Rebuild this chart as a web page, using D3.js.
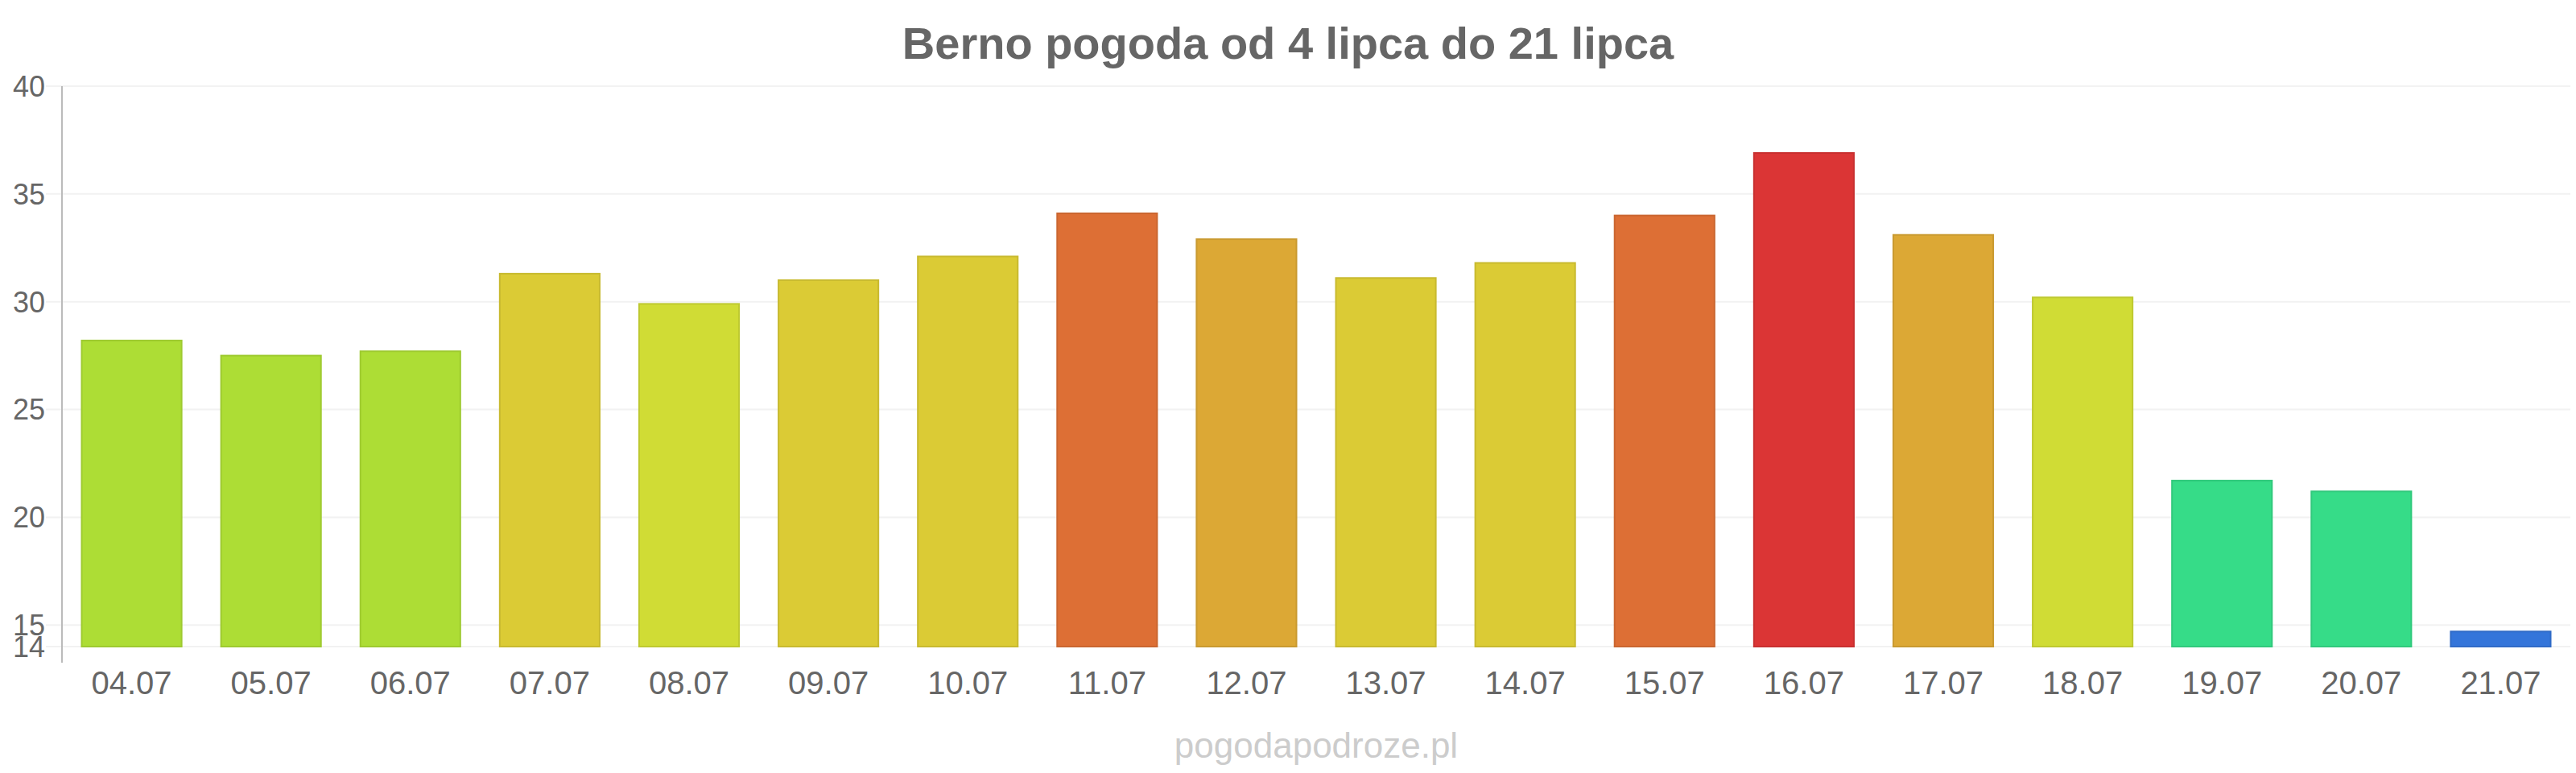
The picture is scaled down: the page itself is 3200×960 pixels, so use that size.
<!DOCTYPE html>
<html>
<head>
<meta charset="utf-8">
<script src="https://cdn.jsdelivr.net/npm/d3@7"></script>
<style>
    body { margin: 0; background: #fff; }
    text { font-family: "Liberation Sans", Arial, sans-serif; }
</style>
</head>
<body>
<svg class="chart"></svg>
<script>
var days = ['04.07', '05.07', '06.07', '07.07', '08.07', '09.07', '10.07', '11.07', '12.07',
    '13.07', '14.07', '15.07', '16.07', '17.07', '18.07', '19.07', '20.07', '21.07']
var temps = [28.2, 27.5, 27.7, 31.3, 29.9, 31.0, 32.1, 34.1, 32.9,
    31.1, 31.8, 34.0, 36.9, 33.1, 30.2, 21.7, 21.2, 14.7]
var bar_colors = ['#addd35', '#addd35', '#addd35', '#dbcb35', '#d0dc35', '#dbcb35', '#dbcb35', '#dd6f35', '#dca835',
    '#dbcb35', '#dbcb35', '#dd6f35', '#db3535', '#dca835', '#d0dc35', '#36dc88', '#36dc88', '#3475da']
var y_ticks = [14, 15, 20, 25, 30, 35, 40]

var width = 3200,
    height = 960

var svg = d3.select(".chart")
    .attr("width", width)
    .attr("height", height)

let plot_left = 77, plot_right = 3193, plot_top = 107, plot_bottom = 803

var x = d3.scaleBand()
    .domain(days)
    .range([plot_left, plot_right])
    .paddingInner(0.283)
    .paddingOuter(0.1415)

var y = d3.scaleLinear()
    .domain([14, 40])
    .range([plot_bottom, plot_top])

// grid lines
svg.append('g')
    .selectAll('line')
    .data(y_ticks)
    .enter().append('line')
    .attr('x1', plot_left - 20)
    .attr('x2', plot_right)
    .attr('y1', (d) => y(d))
    .attr('y2', (d) => y(d))
    .style('stroke', '#f2f2f2')
    .style('stroke-width', 2)

// y axis line
svg.append('line')
    .attr('x1', plot_left).attr('x2', plot_left)
    .attr('y1', plot_top).attr('y2', plot_bottom + 20)
    .style('stroke', '#bbb')
    .style('stroke-width', 2)

svg.append('g')
    .selectAll('text')
    .data(y_ticks)
    .enter().append('text')
    .text((d) => d)
    .attr('x', plot_left - 21)
    .attr('y', (d) => y(d))
    .attr('dy', '0.36em')
    .attr('text-anchor', 'end')
    .style('font-size', '36px')
    .style('fill', '#666')

// bars
svg.append('g')
    .selectAll('rect')
    .data(temps)
    .enter().append('rect')
    .attr('x', (d, i) => x(days[i]))
    .attr('width', x.bandwidth())
    .attr('y', (d) => y(d))
    .attr('height', (d) => y(14) - y(d))
    .style('fill', (d, i) => bar_colors[i])
    .style('stroke', (d, i) => d3.color(bar_colors[i]).darker(0.25))
    .style('stroke-width', 2)

// x labels
svg.append('g')
    .selectAll('text')
    .data(days)
    .enter().append('text')
    .text((d) => d)
    .attr('x', (d) => x(d) + x.bandwidth() / 2)
    .attr('y', 862)
    .attr('text-anchor', 'middle')
    .style('font-size', '40px')
    .style('fill', '#666')

svg.append('text')
    .text('Berno pogoda od 4 lipca do 21 lipca')
    .attr('x', 1600)
    .attr('y', 73)
    .attr('text-anchor', 'middle')
    .style('font-size', '56px')
    .style('font-weight', 'bold')
    .style('fill', '#666')

svg.append('text')
    .text('pogodapodroze.pl')
    .attr('x', (plot_left + plot_right) / 2)
    .attr('y', 941)
    .attr('text-anchor', 'middle')
    .style('font-size', '44px')
    .style('fill', '#ccc')
</script>
</body>
</html>
